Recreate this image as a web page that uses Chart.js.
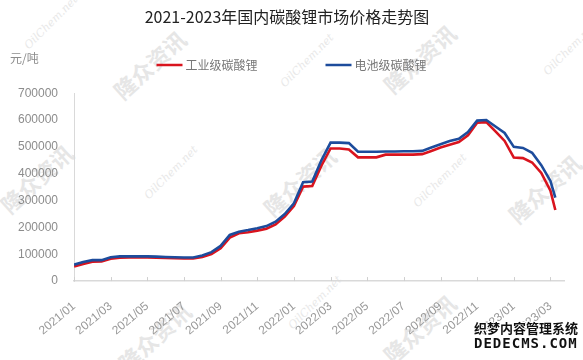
<!DOCTYPE html>
<html>
<head>
<meta charset="utf-8">
<script src="https://cdn.jsdelivr.net/npm/chart.js@4.4.0/dist/chart.umd.min.js"></script>
<style>
  body { margin: 0; background: #fff; }
  #wrap { position: relative; width: 583px; height: 360px; overflow: hidden; font-family: "Noto Sans CJK SC", "Liberation Sans", sans-serif; }
  #chart { position: absolute; left: 0; top: 0; z-index: 2; }
  .wm { position: absolute; z-index: 1; color: #e6e6e6; font-weight: bold; font-size: 22px; transform: rotate(-42deg); white-space: nowrap; }
  .oc { position: absolute; z-index: 1; color: #e8e8e8; font-family: "DejaVu Serif", serif; font-style: italic; font-size: 11px; transform: rotate(-45deg); white-space: nowrap; }
  #unit { position: absolute; left: 10px; top: 49px; z-index: 3; color: #8c8c8c; font-size: 12px; }
  #dede { position: absolute; left: 474px; top: 318px; z-index: 4; font-weight: bold; color: #111;
          text-shadow: -1px 0 #fff, 1px 0 #fff, 0 -1px #fff, 0 1px #fff; }
  #dede .a { font-size: 13px; }
  #dede .b { font-family: "DejaVu Sans Mono", monospace; font-size: 14px; letter-spacing: 1px; margin-top: -2px; }
</style>
</head>
<body>
<div id="wrap">
  <div class="wm" style="left:105px;top:48px">隆众资讯</div>
  <div class="wm" style="left:375px;top:42px">隆众资讯</div>
  <div class="wm" style="left:255px;top:165px">隆众资讯</div>
  <div class="wm" style="left:500px;top:172px">隆众资讯</div>
  <div class="wm" style="left:-8px;top:162px">隆众资讯</div>
  <div class="wm" style="left:110px;top:320px">隆众资讯</div>
  <div class="wm" style="left:375px;top:312px">隆众资讯</div>
  <div class="oc" style="left:16px;top:16px">OilChem.net</div>
  <div class="oc" style="left:272px;top:54px">OilChem.net</div>
  <div class="oc" style="left:535px;top:42px">OilChem.net</div>
  <div class="oc" style="left:136px;top:166px">OilChem.net</div>
  <div class="oc" style="left:405px;top:174px">OilChem.net</div>
  <div class="oc" style="left:280px;top:296px">OilChem.net</div>
  <div id="unit">元/吨</div>
  <canvas id="chart" width="583" height="360"></canvas>
  <div id="dede"><div class="a">织梦内容管理系统</div><div class="b">DEDECMS.COM</div></div>
</div>
<script>
var titleText = '2021-2023年国内碳酸锂市场价格走势图';
var seriesNames = ['工业级碳酸锂', '电池级碳酸锂'];

var dates = [
  '2021-01-01','2021-01-16','2021-02-01','2021-02-16','2021-03-01','2021-03-16',
  '2021-04-01','2021-04-16','2021-05-01','2021-05-16','2021-06-01','2021-06-16',
  '2021-07-01','2021-07-16','2021-08-01','2021-08-16','2021-09-01','2021-09-16',
  '2021-10-01','2021-10-16','2021-11-01','2021-11-16','2021-12-01','2021-12-16',
  '2022-01-01','2022-01-16','2022-02-01','2022-02-16','2022-03-01','2022-03-16',
  '2022-04-01','2022-04-16','2022-05-01','2022-05-16','2022-06-01','2022-06-16',
  '2022-07-01','2022-07-16','2022-08-01','2022-08-16','2022-09-01','2022-09-16',
  '2022-10-01','2022-10-16','2022-11-01','2022-11-16','2022-12-01','2022-12-16',
  '2023-01-01','2023-01-16','2023-02-01','2023-02-16','2023-03-01','2023-03-09'
];

var industrial = [
  54000, 64000, 72000, 73000, 83000, 87000,
  88000, 88000, 88000, 87000, 86000, 85000,
  84000, 84000, 90000, 101000, 122000, 162000,
  178000, 182000, 188000, 195000, 211000, 240000,
  280000, 352000, 354000, 430000, 494000, 494000,
  490000, 461000, 461000, 461000, 471000, 471000,
  471000, 471000, 473000, 485000, 498000, 508000,
  518000, 543000, 590000, 592000, 558000, 522000,
  460000, 458000, 442000, 403000, 337000, 265000
];

var battery = [
  61000, 71000, 78000, 78000, 89000, 92000,
  92000, 92000, 92000, 91000, 90000, 89000,
  88000, 88000, 95000, 108000, 131000, 172000,
  184000, 190000, 197000, 205000, 221000, 250000,
  290000, 368000, 371000, 450000, 516000, 516000,
  514000, 482000, 482000, 482000, 483000, 483000,
  484000, 484000, 485000, 498000, 510000, 522000,
  530000, 555000, 598000, 600000, 576000, 552000,
  500000, 496000, 478000, 432000, 373000, 311000
];

var yTicks = [0, 100000, 200000, 300000, 400000, 500000, 600000, 700000];
var colors = ['#d9141e', '#1d4c9c'];

function monthIndex(d) {
  var p = d.split('-');
  return (parseInt(p[0]) - 2021) * 12 + (parseInt(p[1]) - 1) + (parseInt(p[2]) - 1) / 30;
}

function toPoints(vals) {
  return vals.map(function (v, i) { return { x: monthIndex(dates[i]), y: v }; });
}

// legend drawn by hand: two line items with a wide gap, centred above the plot
var lineLegend = {
  id: 'lineLegend',
  afterDraw: function (chart) {
    var ctx = chart.ctx;
    var sets = chart.data.datasets;
    var lineW = 26, gapText = 3, gapItem = 68, y = 65;
    ctx.save();
    ctx.font = '12px "Noto Sans CJK SC", sans-serif';
    var widths = sets.map(function (ds) { return lineW + gapText + ctx.measureText(ds.label).width; });
    var total = widths[0] + gapItem + widths[1];
    var x = chart.width / 2 - total / 2;
    sets.forEach(function (ds, i) {
      ctx.strokeStyle = ds.borderColor;
      ctx.lineWidth = 2.5;
      ctx.beginPath();
      ctx.moveTo(x, y);
      ctx.lineTo(x + lineW, y);
      ctx.stroke();
      ctx.fillStyle = '#777';
      ctx.textBaseline = 'middle';
      ctx.fillText(ds.label, x + lineW + gapText, y);
      x += widths[i] + gapItem;
    });
    ctx.restore();
  }
};

// small tick marks pointing up into the plot from the x axis
var innerTicks = {
  id: 'innerTicks',
  afterDraw: function (chart) {
    var xs = chart.scales.x, ctx = chart.ctx, b = chart.chartArea.bottom;
    ctx.save();
    ctx.strokeStyle = '#cfcfcf';
    ctx.lineWidth = 1;
    xs.ticks.forEach(function (t) {
      var px = Math.round(xs.getPixelForValue(t.value)) + 0.5;
      ctx.beginPath();
      ctx.moveTo(px, b - 4);
      ctx.lineTo(px, b);
      ctx.stroke();
    });
    ctx.restore();
  }
};

new Chart(document.getElementById('chart'), {
  type: 'line',
  data: {
    datasets: [
      {
        label: seriesNames[0],
        data: toPoints(industrial),
        borderColor: colors[0],
        backgroundColor: colors[0],
        borderWidth: 2.6,
        pointRadius: 0,
        tension: 0,
        order: 1
      },
      {
        label: seriesNames[1],
        data: toPoints(battery),
        borderColor: colors[1],
        backgroundColor: colors[1],
        borderWidth: 2.6,
        pointRadius: 0,
        tension: 0,
        order: 0
      }
    ]
  },
  plugins: [lineLegend, innerTicks],
  options: {
    responsive: false,
    animation: false,
    layout: { padding: { left: 10, right: 19, top: 0, bottom: 12 } },
    plugins: {
      title: {
        display: true,
        text: titleText,
        color: '#222',
        font: { size: 16, weight: 'normal', family: '"Noto Sans CJK SC", sans-serif' },
        padding: { top: 7, bottom: 67 }
      },
      legend: { display: false },
      tooltip: { enabled: false }
    },
    scales: {
      x: {
        type: 'linear',
        min: 0,
        max: 26.74,
        grid: { display: false },
        border: { display: true, color: '#d9d9d9', width: 1.5 },
        ticks: {
          stepSize: 2,
          includeBounds: false,
          autoSkip: false,
          maxRotation: 40,
          minRotation: 40,
          color: '#999',
          padding: 10,
          font: { size: 12, family: '"Liberation Sans", sans-serif' },
          callback: function (v) {
            var y = 2021 + Math.floor(v / 12);
            var m = v % 12 + 1;
            return y + '/' + (m < 10 ? '0' + m : m);
          }
        }
      },
      y: {
        min: 0,
        max: 700000,
        grid: { display: false },
        border: { display: true, color: '#d9d9d9', width: 1 },
        afterBuildTicks: function (axis) {
          axis.ticks = yTicks.map(function (v) { return { value: v }; });
        },
        ticks: {
          color: '#8c8c8c',
          padding: 8,
          font: { size: 12, family: '"Liberation Sans", sans-serif' },
          callback: function (v) { return String(v); }
        }
      }
    }
  }
});
</script>
</body>
</html>
